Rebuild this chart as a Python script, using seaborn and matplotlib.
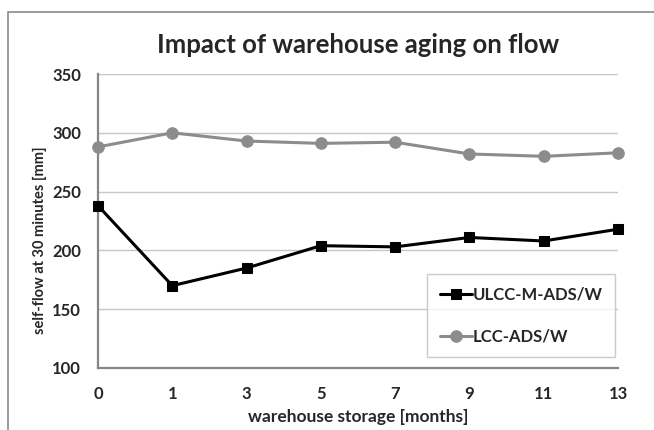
import pandas as pd
import numpy as np
import matplotlib.pyplot as plt
import seaborn as sns
from matplotlib.patches import Rectangle

# Data
months = ['0', '1', '3', '5', '7', '9', '11', '13']
ulcc = [238, 170, 185, 204, 203, 211, 208, 218]
lcc = [288, 300, 293, 291, 292, 282, 280, 283]

df = pd.DataFrame({'pos': np.arange(len(months)), 'month': months,
                   'ULCC-M-ADS/W': ulcc, 'LCC-ADS/W': lcc})

sns.set_style('white')
plt.rcParams['font.family'] = ['Lato', 'DejaVu Sans']
plt.rcParams['font.weight'] = 'bold'

fig = plt.figure(figsize=(6.54, 4.30), dpi=100)
ax = fig.add_axes([98 / 654, 1 - 368 / 430, 520 / 654, 294 / 430])

# outer chart frame (runs off the right and bottom edges)
fig.patches.append(Rectangle((8 / 654, -0.1), 1.2, 1 - 12 / 430 + 0.1,
                             transform=fig.transFigure, fill=False,
                             edgecolor='#8a8a8a', linewidth=1.2))

sns.lineplot(data=df, x='pos', y='ULCC-M-ADS/W', ax=ax, color='black',
             marker='s', markersize=7.3, markeredgecolor='black',
             linewidth=2.2, label='ULCC-M-ADS/W', clip_on=False, zorder=4)
sns.lineplot(data=df, x='pos', y='LCC-ADS/W', ax=ax, color='#8c8c8c',
             marker='o', markersize=8.3, markeredgecolor='#8c8c8c',
             linewidth=2.2, label='LCC-ADS/W', clip_on=False, zorder=3)

ax.set_xlim(0, len(months) - 1)
ax.set_ylim(100, 350)
ax.set_yticks(range(100, 351, 50))
ax.set_xticks(df['pos'])
ax.set_xticklabels(months)
ax.grid(axis='y', color='#c6c6c6', linewidth=1)
ax.set_axisbelow(True)

for s in ['top', 'right']:
    ax.spines[s].set_visible(False)
for s in ['left', 'bottom']:
    ax.spines[s].set_color('#868686')
    ax.spines[s].set_linewidth(1.6)

ax.tick_params(axis='both', which='major', direction='out', length=4.2,
               width=1.3, color='#868686', labelsize=12)
ax.tick_params(axis='x', pad=9)
ax.tick_params(axis='y', pad=8)
for lab in ax.get_xticklabels() + ax.get_yticklabels():
    lab.set_fontweight('bold')

ax.set_title('Impact of warehouse aging on flow', fontsize=18.5,
             fontweight='bold', pad=15)
ax.set_xlabel('warehouse storage [months]', fontsize=12.5, fontweight='bold',
              labelpad=5)
ax.set_ylabel('self-flow at 30 minutes [mm]', fontsize=10.5,
              fontweight='bold')
ax.yaxis.set_label_coords(-51 / 520, (368 - 240) / 294)

leg = ax.legend(loc='lower right', bbox_to_anchor=(0.994, 0.037),
                borderaxespad=0, frameon=True, fancybox=False,
                edgecolor='#bfbfbf', fontsize=12, handlelength=1.9,
                handletextpad=0.05, labelspacing=1.55, borderpad=0.75)
leg.get_frame().set_linewidth(1)
for t in leg.get_texts():
    t.set_fontweight('bold')

fig.savefig('out.png', dpi=100)
